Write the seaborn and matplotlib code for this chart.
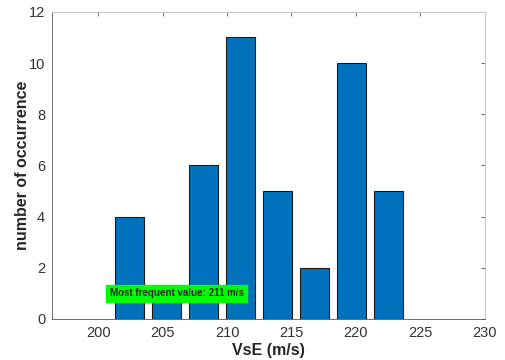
import matplotlib
matplotlib.use("Agg")
import matplotlib.pyplot as plt
import seaborn as sns
import pandas as pd

# histogram bins (centres, m/s) and counts
bin_centers = [202.45, 205.32, 208.19, 211.06, 213.93, 216.80, 219.67, 222.54]
counts = [4, 1, 6, 11, 5, 2, 10, 5]
label_text = "Most frequent value: 211 m/s"

sns.set_style("white")
plt.rcParams['font.family'] = ['Liberation Sans', 'DejaVu Sans']

df = pd.DataFrame({"VsE": bin_centers, "count": counts})

fig = plt.figure(figsize=(5.06, 3.6), dpi=100)
ax = fig.add_axes([0.103, 0.114, 0.855, 0.853])
sns.barplot(data=df, x="VsE", y="count", native_scale=True, width=0.8,
            color="#0072BD", saturation=1, edgecolor="#1a1a1a", linewidth=0.8, ax=ax)

ax.set_xlim(196.43, 230)
ax.set_ylim(0, 12)
ax.set_xticks(range(200, 231, 5))
ax.set_yticks(range(0, 13, 2))
ax.tick_params(direction="in", length=3, width=0.6, color="#555555",
               labelsize=10.5, labelcolor="#333333", top=True, right=True, pad=5)
for s in ax.spines.values():
    s.set_color("#c8c8c8")
    s.set_linewidth(0.8)
ax.spines["left"].set_color("#555555")
ax.spines["bottom"].set_color("#555555")
ax.spines["left"].set_linewidth(0.6)
ax.spines["bottom"].set_linewidth(0.6)

ax.set_xlabel("VsE (m/s)", fontsize=11.5, fontweight="bold", color="#262626", labelpad=2)
ax.set_ylabel("number of occurrence", fontsize=11.5, fontweight="bold", color="#262626", labelpad=-1)

ax.text(200.9, 1, label_text, fontsize=7, fontweight="bold", va="center", ha="left",
        bbox=dict(facecolor="#00ff00", edgecolor="#00ff00", pad=2.5))

fig.savefig("out.png", dpi=100)
